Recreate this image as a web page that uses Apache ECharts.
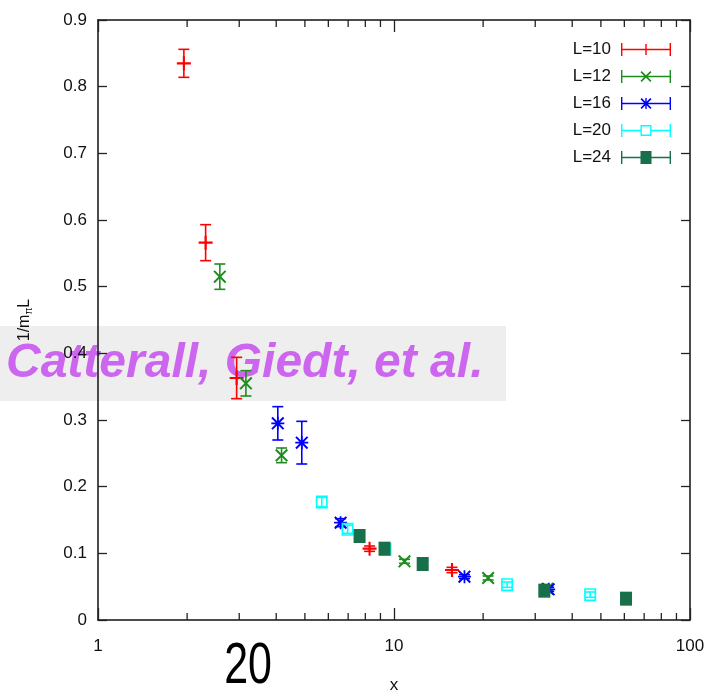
<!DOCTYPE html>
<html>
<head>
<meta charset="utf-8">
<script src="https://cdn.jsdelivr.net/npm/echarts@6/dist/echarts.min.js"></script>
<style>html,body{margin:0;padding:0;background:#fff;}#c{width:705px;height:695px;}</style>
</head>
<body>
<div id="c"></div>
<script>
// ---- data ----
const seriesNames = ['L=10', 'L=12', 'L=16', 'L=20', 'L=24'];
const colors = ['#ff0000', '#1e8c1e', '#0000ff', '#00ffff', '#17704a'];

const L10_x = [1.95, 2.31, 2.94, 8.27, 15.7];
const L10_y = [0.835, 0.566, 0.363, 0.107, 0.075];
const L10_e = [0.021, 0.027, 0.031, 0.004, 0.004];

const L12_x = [2.58, 3.16, 4.17, 10.85, 20.8, 33.0];
const L12_y = [0.515, 0.355, 0.247, 0.088, 0.063, 0.047];
const L12_e = [0.019, 0.019, 0.011, 0.003, 0.003, 0.003];

const L16_x = [4.05, 4.88, 6.6, 17.3, 33.3];
const L16_y = [0.295, 0.266, 0.146, 0.065, 0.046];
const L16_e = [0.025, 0.032, 0.006, 0.003, 0.003];

const L20_x = [5.7, 6.97, 9.36, 24.1, 46.0];
const L20_y = [0.177, 0.136, 0.106, 0.053, 0.038];
const L20_e = [0.007, 0.006, 0.004, 0.004, 0.004];

const L24_x = [7.65, 9.29, 12.5, 32.2, 60.8];
const L24_y = [0.126, 0.107, 0.084, 0.044, 0.032];
const L24_e = [0.005, 0.004, 0.004, 0.004, 0.003];

const xTicks = [1, 10, 100];
const xMinorTicks = [2, 3, 4, 5, 6, 7, 8, 9, 20, 30, 40, 50, 60, 70, 80, 90];
const yMin = 0, yMax = 0.9, yStep = 0.1;

const watermarkText = 'Catterall, Giedt, et al.';
const pageText = '20';

// ---- symbols ----
const symPlus = 'path://M0,5.1 H12 V6.9 H0 Z M5.1,0 H6.9 V12 H5.1 Z';
const symCross = 'path://M0,1.3 L1.3,0 L12,10.7 L10.7,12 Z M10.7,0 L12,1.3 L1.3,12 L0,10.7 Z';
const symStar = 'path://M0,1.3 L1.3,0 L12,10.7 L10.7,12 Z M10.7,0 L12,1.3 L1.3,12 L0,10.7 Z M0,5.2 H12 V6.8 H0 Z M5.2,0 H6.8 V12 H5.2 Z';
const symOpenSq = 'path://M0,0 H12 V13 H0 Z M1.7,1.7 V11.3 H10.3 V1.7 Z';
const symFillSq = 'path://M0,0 H12 V14 H0 Z';
const symbols = [symPlus, symCross, symStar, symOpenSq, symFillSq];
const symSizes = [14, 13, 13, [12, 13], [12, 14]];

const bar = 'M0,5.8 H50 V7.2 H0 Z ';
const caps = 'M0,0 H1.4 V13 H0 Z M48.6,0 H50 V13 H48.6 Z ';
const diag = 'M19.5,2.2 L20.7,1 L30.5,10.8 L29.3,12 Z M29.3,1 L30.5,2.2 L20.7,12 L19.5,10.8 Z ';
const vert = 'M24.3,1 H25.7 V12 H24.3 Z ';
const legendIcons = [
  'path://' + bar + caps + vert,
  'path://' + bar + caps + diag,
  'path://' + bar + caps + diag + vert,
  'path://M0,5.8 H19.5 V7.2 H0 Z M30.5,5.8 H50 V7.2 H30.5 Z ' + caps + 'M19.5,1 H30.5 V12 H19.5 Z M20.9,2.4 V10.6 H29.1 V2.4 Z',
  'path://' + bar + caps + 'M19.5,0 H30.5 V13 H19.5 Z'
];

const groups = [
  [L10_x, L10_y, L10_e], [L12_x, L12_y, L12_e], [L16_x, L16_y, L16_e],
  [L20_x, L20_y, L20_e], [L24_x, L24_y, L24_e]
];

function errRender(color) {
  return function (params, api) {
    const x = api.value(0), y = api.value(1), e = api.value(2);
    const hi = api.coord([x, y + e]);
    const lo = api.coord([x, y - e]);
    const w = 5.5;
    const st = { stroke: color, lineWidth: 1.6 };
    return {
      type: 'group',
      children: [
        { type: 'line', shape: { x1: hi[0], y1: hi[1], x2: lo[0], y2: lo[1] }, style: st },
        { type: 'line', shape: { x1: hi[0] - w, y1: hi[1], x2: hi[0] + w, y2: hi[1] }, style: st },
        { type: 'line', shape: { x1: lo[0] - w, y1: lo[1], x2: lo[0] + w, y2: lo[1] }, style: st }
      ]
    };
  };
}

const FONT = '"Liberation Sans", Arial, sans-serif';
const series = [];
groups.forEach((g, i) => {
  series.push({
    type: 'scatter',
    name: seriesNames[i],
    data: g[0].map((x, k) => [x, g[1][k]]),
    symbol: symbols[i],
    symbolSize: symSizes[i],
    symbolKeepAspect: false,
    itemStyle: { color: colors[i], opacity: 1 },
    z: 4,
    emphasis: { disabled: true }
  });
});
groups.forEach((g, i) => {
  series.push({
    type: 'custom',
    name: seriesNames[i],
    data: g[0].map((x, k) => [x, g[1][k], g[2][k]]),
    encode: { x: 0, y: 1 },
    itemStyle: { color: colors[i] },
    renderItem: errRender(colors[i]),
    z: 3,
    silent: true
  });
});
// minor log ticks (bottom and top)
series.push({
  type: 'custom',
  name: 'minor',
  data: xMinorTicks.map(v => [v]),
  encode: { x: 0 },
  silent: true,
  z: 5,
  renderItem: function (params, api) {
    const x = api.value(0);
    const b = api.coord([x, yMin]);
    const t = api.coord([x, yMax]);
    const st = { stroke: '#222', lineWidth: 1.3 };
    return {
      type: 'group',
      children: [
        { type: 'line', shape: { x1: b[0], y1: b[1], x2: b[0], y2: b[1] - 7 }, style: st },
        { type: 'line', shape: { x1: t[0], y1: t[1], x2: t[0], y2: t[1] + 7 }, style: st }
      ]
    };
  }
});

const axisLine = { show: true, onZero: false, lineStyle: { color: '#111', width: 1.5 } };

const option = {
  animation: false,
  backgroundColor: '#ffffff',
  grid: { left: 98, right: 15, top: 20, bottom: 75, containLabel: false, outerBoundsMode: 'none' },
  legend: {
    orient: 'vertical',
    right: 34,
    top: 41,
    padding: 0,
    align: 'right',
    itemWidth: 50,
    itemHeight: 13,
    itemGap: 10,
    selectedMode: false,
    itemStyle: { borderWidth: 0 },
    textStyle: { fontFamily: FONT, fontSize: 17, color: '#111', padding: [0, 5, 0, 0] },
    data: seriesNames.map((n, i) => ({ name: n, icon: legendIcons[i] }))
  },
  xAxis: [
    {
      type: 'log', logBase: 10, min: xTicks[0], max: xTicks[xTicks.length - 1],
      name: 'x', nameLocation: 'middle', nameGap: 57,
      nameTextStyle: { fontFamily: FONT, fontSize: 17, color: '#111' },
      axisLine: axisLine,
      axisTick: { show: true, inside: true, length: 12, lineStyle: { color: '#222', width: 1.3 } },
      axisLabel: { fontFamily: FONT, fontSize: 17, color: '#111', margin: 18 },
      splitLine: { show: false }, minorTick: { show: false }
    },
    {
      type: 'log', logBase: 10, min: xTicks[0], max: xTicks[xTicks.length - 1], position: 'top',
      axisLine: axisLine,
      axisTick: { show: true, inside: true, length: 12, lineStyle: { color: '#222', width: 1.3 } },
      axisLabel: { show: false }, splitLine: { show: false }
    }
  ],
  yAxis: [
    {
      type: 'value', min: yMin, max: yMax, interval: yStep,
      name: '{a|1/m}{s|π}{a|L}', nameLocation: 'middle', nameGap: 64, nameRotate: 90,
      nameTextStyle: {
        fontFamily: FONT, fontSize: 16, color: '#111',
        rich: {
          a: { fontFamily: FONT, fontSize: 16, color: '#111' },
          s: { fontFamily: FONT, fontSize: 10, color: '#111', padding: [9, 0, 0, 0] }
        }
      },
      axisLine: axisLine,
      axisTick: { show: true, inside: true, length: 9, lineStyle: { color: '#222', width: 1.3 } },
      axisLabel: { fontFamily: FONT, fontSize: 17, color: '#111', margin: 11 },
      splitLine: { show: false }
    },
    {
      type: 'value', min: yMin, max: yMax, interval: yStep, position: 'right',
      axisLine: axisLine,
      axisTick: { show: true, inside: true, length: 9, lineStyle: { color: '#222', width: 1.3 } },
      axisLabel: { show: false }, splitLine: { show: false }
    }
  ],
  graphic: [
    {
      type: 'rect', z: -10, silent: true,
      shape: { x: 0, y: 326, width: 506, height: 75 },
      style: { fill: '#eeeeee' }
    },
    {
      type: 'text', z: -9, silent: true, x: 6, y: 364,
      style: {
        text: watermarkText, fill: '#cc66ee',
        font: 'italic bold 48px ' + FONT,
        textAlign: 'left', verticalAlign: 'middle'
      }
    },
    {
      type: 'text', silent: true, x: 248, y: 667, scaleX: 0.74,
      style: {
        text: pageText, fill: '#000',
        font: '58px ' + FONT,
        textAlign: 'center', verticalAlign: 'middle'
      }
    }
  ],
  series: series
};

const chart = echarts.init(document.getElementById('c'), null, { renderer: 'canvas' });
chart.setOption(option);
</script>
</body>
</html>
